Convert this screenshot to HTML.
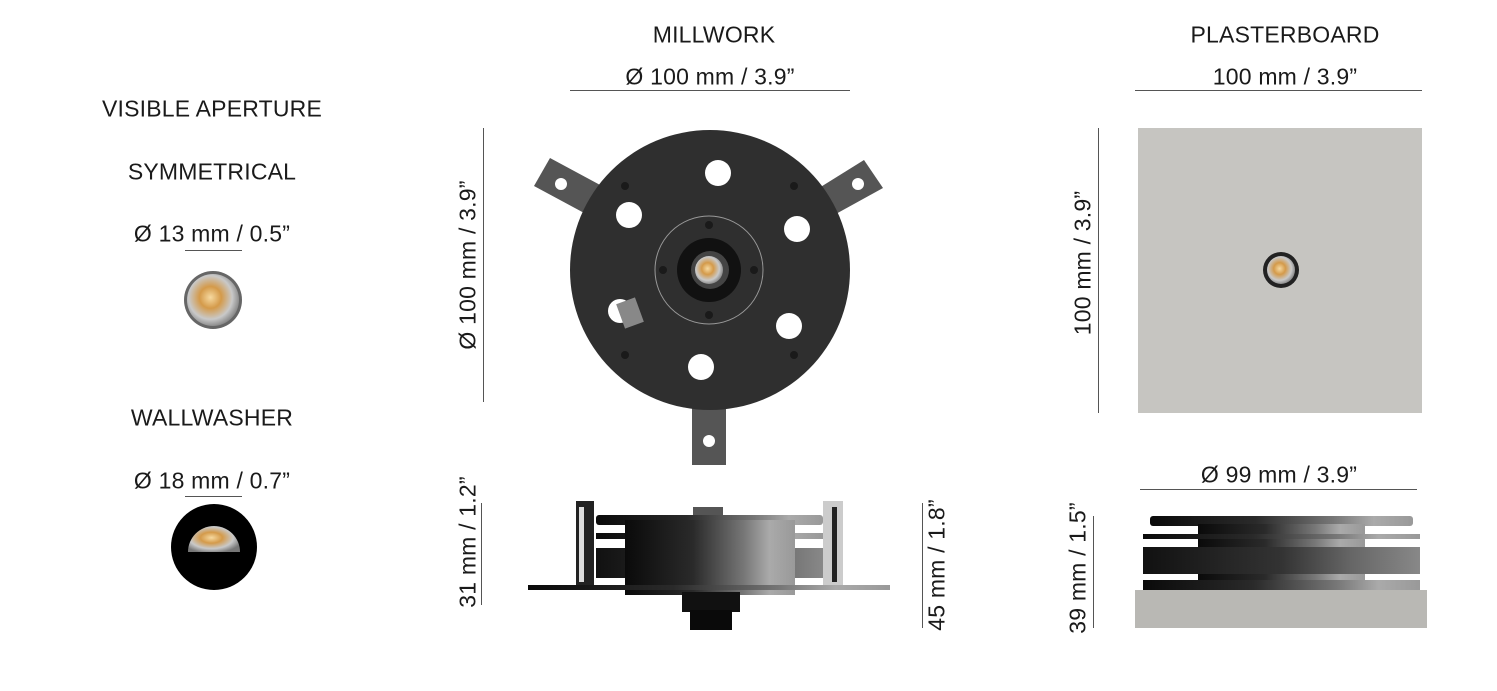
<!DOCTYPE html>
<html><head><meta charset="utf-8"><style>
html,body{margin:0;padding:0;background:#fff;}
body{width:1497px;height:691px;position:relative;overflow:hidden;font-family:"Liberation Sans",sans-serif;color:#1a1a1a;}
.t{position:absolute;font-size:23px;white-space:nowrap;transform:translate(-50%,-50%);letter-spacing:0.2px;}
.l{position:absolute;background:#555;}
</style></head><body>
<div class="t" style="left:714px;top:35px">MILLWORK</div>
<div class="t" style="left:710px;top:77px">Ø 100 mm / 3.9”</div>
<div class="l" style="left:570px;top:90px;width:280px;height:1px"></div>
<div class="t" style="left:1285px;top:35px">PLASTERBOARD</div>
<div class="t" style="left:1285px;top:77px">100 mm / 3.9”</div>
<div class="l" style="left:1135px;top:90px;width:287px;height:1px"></div>

<div class="t" style="left:212px;top:109px">VISIBLE APERTURE</div>
<div class="t" style="left:212px;top:172px">SYMMETRICAL</div>
<div class="t" style="left:212px;top:234px">Ø 13 mm / 0.5”</div>
<div class="l" style="left:185px;top:250px;width:57px;height:1px"></div>
<div class="t" style="left:212px;top:418px">WALLWASHER</div>
<div class="t" style="left:212px;top:481px">Ø 18 mm / 0.7”</div>
<div class="l" style="left:185px;top:496px;width:57px;height:1px"></div>

<div class="t" style="left:468px;top:265px;transform:translate(-50%,-50%) rotate(-90deg)">Ø 100 mm / 3.9”</div>
<div class="l" style="left:483px;top:128px;width:1px;height:274px"></div>
<div class="t" style="left:1083px;top:263px;transform:translate(-50%,-50%) rotate(-90deg)">100 mm / 3.9”</div>
<div class="l" style="left:1098px;top:128px;width:1px;height:285px"></div>

<div class="t" style="left:468px;top:542px;transform:translate(-50%,-50%) rotate(-90deg)">31 mm / 1.2”</div>
<div class="l" style="left:481px;top:503px;width:1px;height:102px"></div>
<div class="t" style="left:937px;top:565px;transform:translate(-50%,-50%) rotate(-90deg)">45 mm / 1.8”</div>
<div class="l" style="left:922px;top:503px;width:1px;height:125px"></div>
<div class="t" style="left:1279px;top:475px">Ø 99 mm / 3.9”</div>
<div class="l" style="left:1140px;top:489px;width:277px;height:1px"></div>
<div class="t" style="left:1078px;top:568px;transform:translate(-50%,-50%) rotate(-90deg)">39 mm / 1.5”</div>
<div class="l" style="left:1093px;top:516px;width:1px;height:112px"></div>

<svg width="1497" height="691" style="position:absolute;left:0;top:0">
<defs>
<radialGradient id="lens" cx="0.45" cy="0.45" r="0.6"><stop offset="0" stop-color="#f6d9a0"/><stop offset="0.35" stop-color="#d49a4a"/><stop offset="0.7" stop-color="#c9c9c9"/><stop offset="1" stop-color="#777"/></radialGradient>
<linearGradient id="ring" x1="0" x2="1"><stop offset="0" stop-color="#0a0a0a"/><stop offset="0.4" stop-color="#2a2a2a"/><stop offset="0.7" stop-color="#777"/><stop offset="0.85" stop-color="#aaa"/><stop offset="1" stop-color="#999"/></linearGradient>
<linearGradient id="ring2" x1="0" x2="1"><stop offset="0" stop-color="#111"/><stop offset="0.5" stop-color="#333"/><stop offset="0.75" stop-color="#666"/><stop offset="1" stop-color="#888"/></linearGradient>
</defs>
<!-- small lenses -->
<circle cx="213" cy="300" r="29" fill="#666"/><circle cx="213" cy="300" r="26" fill="url(#lens)"/>
<circle cx="214" cy="547" r="43" fill="#000"/>
<path d="M188 552 A26 26 0 0 1 240 552 Z" fill="url(#lens)"/>
<!-- millwork top view tabs -->
<polygon points="550,158 602,186 586,214 534,186" fill="#555"/>
<circle cx="561" cy="184" r="6" fill="#fff"/>
<polygon points="864,160 883,188 834,215 819,188" fill="#555"/>
<circle cx="858" cy="184" r="6" fill="#fff"/>
<rect x="692" y="398" width="34" height="67" fill="#555"/>
<circle cx="709" cy="441" r="6" fill="#fff"/>
<circle cx="710" cy="270" r="140" fill="#2f2f2f"/>
<g fill="#fff">
<circle cx="718" cy="173" r="13"/><circle cx="629" cy="215" r="13"/><circle cx="797" cy="229" r="13"/>
<circle cx="789" cy="326" r="13"/><circle cx="701" cy="367" r="13"/><circle cx="620" cy="311" r="12"/>
</g>
<rect x="620" y="300" width="20" height="26" fill="#888" transform="rotate(-20 630 313)"/>
<g fill="#1a1a1a"><circle cx="625" cy="186" r="4"/><circle cx="794" cy="186" r="4"/><circle cx="625" cy="355" r="4"/><circle cx="794" cy="355" r="4"/>
<circle cx="709" cy="225" r="4"/><circle cx="663" cy="270" r="4"/><circle cx="754" cy="270" r="4"/><circle cx="709" cy="315" r="4"/></g>
<circle cx="709" cy="270" r="54" fill="none" stroke="#999" stroke-width="1"/>
<circle cx="709" cy="270" r="32" fill="#111"/>
<circle cx="710" cy="270" r="19" fill="#444"/>
<circle cx="709" cy="270" r="14" fill="url(#lens)"/>
<!-- plasterboard -->
<rect x="1138" y="128" width="284" height="285" fill="#c6c5c1"/>
<circle cx="1281" cy="270" r="18" fill="#222"/><circle cx="1281" cy="270" r="14" fill="url(#lens)"/>
<!-- millwork side -->
<rect x="576" y="501" width="18" height="87" fill="#222"/><rect x="579" y="507" width="5" height="75" fill="#ddd"/>
<rect x="823" y="501" width="20" height="87" fill="#ccc"/><rect x="832" y="507" width="5" height="75" fill="#222"/>
<rect x="693" y="507" width="30" height="8" fill="#555"/>
<rect x="596" y="515" width="227" height="10" rx="3" fill="url(#ring)"/>
<rect x="596" y="533" width="227" height="6" fill="url(#ring)"/>
<rect x="596" y="548" width="227" height="30" fill="url(#ring2)"/>
<rect x="625" y="520" width="170" height="75" fill="url(#ring)"/>
<rect x="528" y="585" width="362" height="5" fill="url(#ring)"/>
<rect x="682" y="592" width="58" height="20" fill="#111"/>
<rect x="690" y="610" width="42" height="20" fill="#0a0a0a"/>
<!-- plasterboard side -->
<rect x="1150" y="516" width="263" height="10" rx="3" fill="url(#ring)"/>
<rect x="1198" y="524" width="167" height="62" fill="url(#ring)"/>
<rect x="1143" y="534" width="277" height="5" fill="url(#ring)"/>
<rect x="1143" y="547" width="277" height="27" fill="url(#ring2)"/>
<rect x="1143" y="580" width="277" height="10" fill="url(#ring)"/>
<rect x="1135" y="590" width="292" height="38" fill="#b9b8b4"/>
</svg>
</body></html>
